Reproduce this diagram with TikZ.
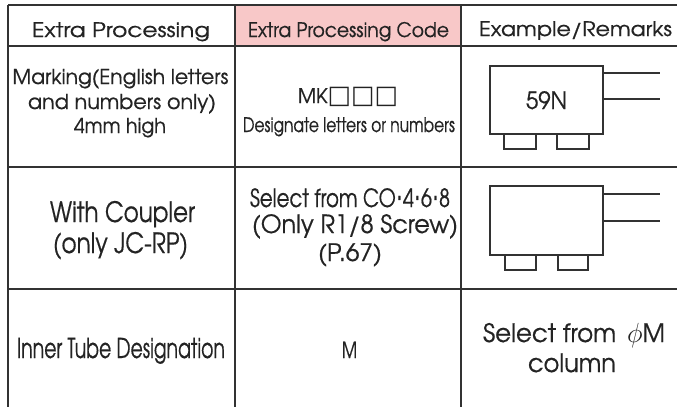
\documentclass[tikz,border=0pt]{standalone}
\usepackage{fontspec}
\usepackage{graphicx}
\setmainfont{texgyreadventor-regular.otf}[FakeBold=0.6]
\newfontfamily\djv{DejaVu Sans}
\newlength\pxu
\setlength\pxu{0.75pt}
\newcommand\tx[2]{\resizebox{#1\pxu}{\height}{#2}}
\newcommand\fs[1]{\fontsize{#1}{#1}\selectfont}
\newcommand\mdot{\raisebox{0.28em}{\scalebox{1.3}{.}}}
\definecolor{hdrpink}{RGB}{248,200,200}
\definecolor{rulec}{RGB}{50,50,50}
\definecolor{txtc}{RGB}{35,35,35}
\begin{document}
\begin{tikzpicture}[x=0.75pt,y=-0.75pt,
  rule/.style={draw=rulec,line width=1.5pt},
  sketch/.style={draw=rulec,line width=1.1pt},
  txt/.style={inner sep=0pt,anchor=base,text=txtc}]
\useasboundingbox (0,0) rectangle (677,407);
\fill[white] (0,0) rectangle (677,407);
% header fill
\fill[hdrpink] (235,5) rectangle (461,46);
% grid
\draw[rule] (8,5) -- (677,5);
\draw[rule] (8,46) -- (677,46);
\draw[rule] (8,167) -- (677,167);
\draw[rule] (8,289) -- (677,289);
\draw[rule] (8,5) -- (8,407);
\draw[rule] (235,5) -- (235,407);
\draw[rule] (461,5) -- (461,407);
% header texts
\node[txt] (h1) at (121,37) {\fs{15}\tx{178}{Extra Processing}};
\node[txt] (h2) at (348.5,37) {\fs{15}\tx{201}{Extra Processing Code}};
\node[txt] (h3) at (575.5,36) {\fs{15}\tx{193}{Example/Remarks}};
% row 1
\node[txt] (a1) at (120.5,84) {\fs{15.4}\tx{216}{Marking(English letters}};
\node[txt] (a2) at (122,109) {\fs{15.4}\tx{188}{and numbers only)}};
\node[txt] (a3) at (120,133) {\fs{15.4}\tx{92}{4mm high}};
\node[txt] (b1) at (348,103) {\fs{15}\tx{100}{MK{\djv\fontsize{19}{19}\selectfont □□□}}};
\node[txt] (b2) at (349,132) {\fs{15}\tx{212}{Designate letters or numbers}};
\draw[sketch] (490,66) rectangle (603,134);
\draw[sketch] (603,73) -- (660,73);
\draw[sketch] (603,99) -- (660,99);
\draw[sketch] (504,134) rectangle (536,149);
\draw[sketch] (557,134) rectangle (589,149);
\node[txt] (c1) at (546.5,109) {\fs{17.8}\tx{41}{59N}};
% row 2
\node[txt] (a4) at (122.5,222) {\fs{21}\tx{145}{With Coupler}};
\node[txt] (a5) at (120.5,253) {\fs{21}\tx{135}{(only JC-RP)}};
\node[txt] (b3) at (350,207) {\fs{18.8}\tx{200}{Select from CO\mdot 4\mdot 6\mdot 8}};
\node[txt] (b4) at (355,233) {\fs{18.8}\tx{206}{(Only R1/8 Screw)}};
\node[txt] (b5) at (350,261) {\fs{18}\tx{64}{(P.67)}};
\draw[sketch] (490,186) rectangle (603,255);
\draw[sketch] (603,194) -- (660,194);
\draw[sketch] (603,221) -- (660,221);
\draw[sketch] (505,255) rectangle (536,270);
\draw[sketch] (558,255) rectangle (588,270);
% row 3
\node[txt] (a6) at (121,358) {\fs{20.5}\tx{208}{Inner Tube Designation}};
\node[txt] (b6) at (349.5,358) {\fs{16.5}\tx{15}{M}};
\node[txt] (c2) at (574,342) {\fs{19}\tx{182}{Select from \,{\fontsize{21}{21}\selectfont$\phi$}M}};
\node[txt] (c3) at (572,372) {\fs{19}\tx{88}{column}};
\end{tikzpicture}
\end{document}
